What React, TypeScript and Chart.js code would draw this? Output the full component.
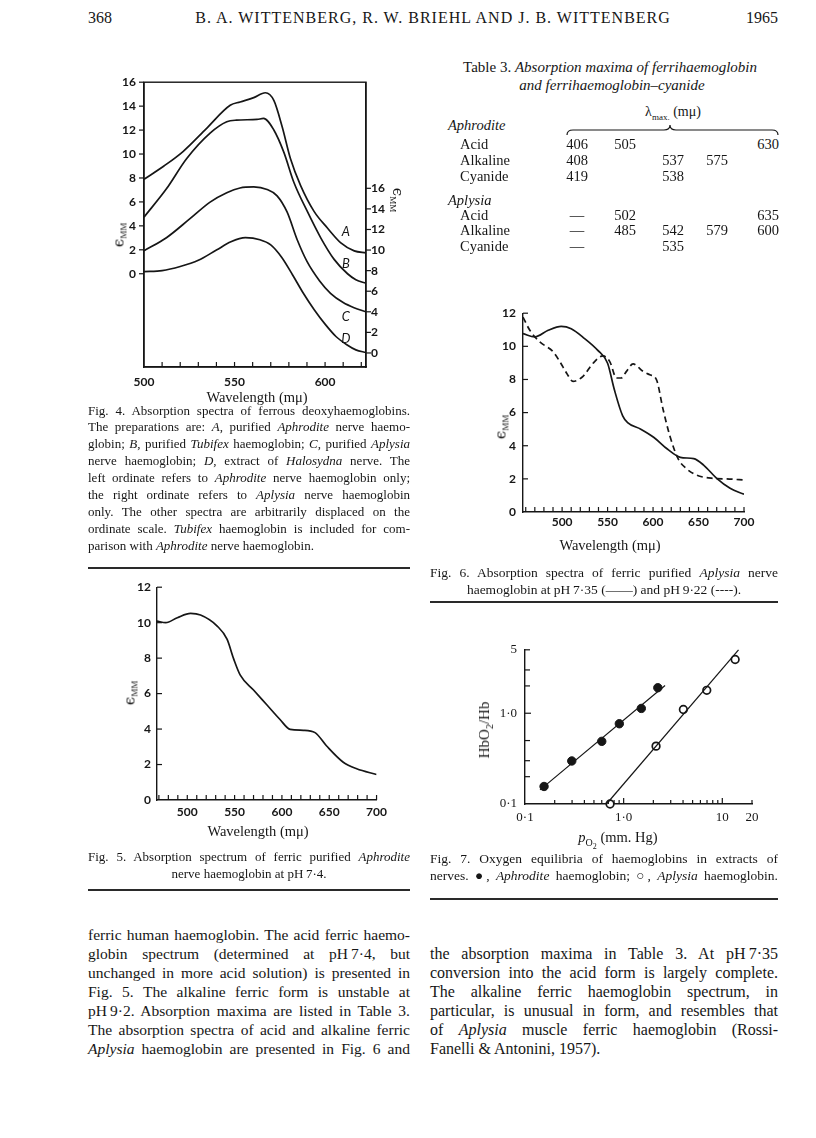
import React, { useEffect, useRef } from "react";
import { Chart, registerables } from "chart.js";
Chart.register(...registerables);

// ---------------- Fig. 4 data (wavelength in mμ, ε mM) ----------------
const fig4A_wl = [500, 511, 521.7, 534.6, 547.6, 553.1, 560.6, 567, 571.7, 576.3, 580.9, 586.5, 593.9, 601.3, 608.7, 616.1, 622.6];
const fig4A_eps = [7.89, 9.0, 10.23, 12.15, 14.07, 14.35, 14.71, 15.12, 14.48, 12.28, 9.6, 7.36, 5.21, 3.82, 2.58, 1.91, 1.74];
const fig4B_wl = [500, 512.4, 523.5, 536.5, 545.7, 551, 562.4, 566, 571.7, 577.2, 582.8, 590.2, 597.6, 605, 612.4, 617, 622.6];
const fig4B_eps = [4.73, 7.09, 9.6, 11.74, 12.69, 12.83, 12.89, 12.97, 12.01, 10.16, 7.62, 5.2, 3.0, 1.2, 0.0, -0.5, -0.8];
// C and D are read on the right ordinate
const fig4C_wl = [500, 512.4, 525.4, 536.5, 545.7, 553, 560.6, 568, 573.5, 579, 584.6, 590, 597, 603, 610, 616, 622.6];
const fig4C_eps = [9.93, 11.2, 13.05, 14.66, 15.57, 16.03, 16.13, 15.88, 15.27, 13.7, 11.0, 8.9, 7.0, 5.8, 4.9, 4.4, 4.0];
const fig4D_wl = [500, 510, 520, 530, 540, 548, 556, 564, 570, 576, 582, 588, 594, 600, 606, 612, 617, 622.6];
const fig4D_eps = [7.9, 8.0, 8.4, 9.0, 10.0, 10.8, 11.2, 11.0, 10.5, 9.3, 7.6, 5.8, 4.2, 2.8, 1.6, 0.8, 0.3, 0.05];
const fig4LeftTicks = [0, 2, 4, 6, 8, 10, 12, 14, 16];
const fig4RightTicks = [0, 2, 4, 6, 8, 10, 12, 14, 16];
const fig4XLabelTicks = [500, 550, 600];
const fig4XMinorTicks = [510, 520, 530, 540, 550, 560, 570, 580, 590, 600, 610, 620];
const fig4CurveNames = ["A", "B", "C", "D"];
const fig4LabelWl = [611.5, 611.5, 611.5, 611.5];
const fig4LabelEps = [3.53, 0.82, 3.5, 1.4];
const fig4LabelAxis = ["y", "y", "y2", "y2"];

// ---------------- Fig. 5 data ----------------
const fig5_wl = [468, 477.2, 489.5, 503.5, 514, 531.6, 542, 549, 556, 570, 584, 598, 608.7, 622.7, 635, 647, 664.8, 679, 700];
const fig5_eps = [10.09, 10.0, 10.28, 10.52, 10.43, 9.81, 9.07, 7.96, 7.04, 6.2, 5.37, 4.54, 3.98, 3.93, 3.8, 3.06, 2.13, 1.76, 1.44];
const fig5YTicks = [0, 2, 4, 6, 8, 10, 12];
const fig5XLabelTicks = [500, 550, 600, 650, 700];
const fig5XMinorTicks = [470, 480, 490, 500, 510, 520, 530, 540, 550, 560, 570, 580, 590, 600, 610, 620, 630, 640, 650, 660, 670, 680, 690, 700];

// ---------------- Fig. 6 data ----------------
const fig6Solid_wl = [457, 470, 484.7, 499, 510, 524.7, 539, 550, 557.4, 566.6, 572, 586.5, 601, 615.7, 630, 644.7, 655.6, 670, 684.7, 700];
const fig6Solid_eps = [10.77, 10.57, 10.97, 11.2, 11.06, 10.47, 9.77, 8.98, 7.39, 5.8, 5.4, 5.0, 4.5, 3.8, 3.3, 3.22, 2.83, 2.03, 1.43, 1.07];
const fig6Dash_wl = [457, 464.5, 475.5, 490, 497.5, 505, 512, 523, 534, 545, 552.4, 559.8, 565, 570.8, 578, 589, 596.4, 603.7, 611, 618.4, 627.5, 636.7, 647.7, 666, 684, 700];
const fig6Dash_eps = [11.76, 10.97, 10.27, 9.68, 9.08, 8.38, 7.89, 8.19, 8.98, 9.42, 9.08, 8.09, 8.09, 8.49, 8.94, 8.49, 8.28, 7.99, 6.2, 4.61, 3.22, 2.62, 2.23, 2.03, 1.99, 1.93];
const fig6YTicks = [0, 2, 4, 6, 8, 10, 12];
const fig6XLabelTicks = [500, 550, 600, 650, 700];
const fig6XMinorTicks = [460, 470, 480, 490, 500, 510, 520, 530, 540, 550, 560, 570, 580, 590, 600, 610, 620, 630, 640, 650, 660, 670, 680, 690, 700];

// ---------------- Fig. 7 data (log-log) ----------------
const fig7Aphrodite_p = [0.156, 0.298, 0.6, 0.904, 1.51, 2.22];
const fig7Aphrodite_ratio = [0.156, 0.298, 0.49, 0.766, 1.13, 1.91];
const fig7Aplysia_p = [0.728, 2.13, 4.03, 6.96, 13.5];
const fig7Aplysia_ratio = [0.1, 0.434, 1.1, 1.79, 3.91];
const fig7AphroditeLine_p = [0.142, 2.63];
const fig7AphroditeLine_ratio = [0.143, 2.02];
const fig7AplysiaLine_p = [0.67, 14.6];
const fig7AplysiaLine_ratio = [0.1, 5.0];
const fig7XTickValues = [0.1, 1, 10, 20];
const fig7XTickLabels = ["0·1", "1·0", "10", "20"];
const fig7YTickValues = [0.1, 1, 5];
const fig7YTickLabels = ["0·1", "1·0", "5"];
const fig7XMinor = [0.2, 0.3, 0.4, 0.5, 0.6, 0.7, 0.8, 0.9, 2, 3, 4, 5, 6, 7, 8, 9, 20];
const fig7XMajor = [1, 10];
const fig7YMinor = [0.2, 0.3, 0.5, 2, 3, 5];
const fig7YMajor = [1];

// ---------------- styles ----------------
const INK = "#161616";
const SERIF = '"Liberation Serif", "Times New Roman", serif';
const SANS = 'Lato, "Liberation Sans", sans-serif';
const TICK_FONT = { family: SANS, size: 12, weight: "bold" as const };
const SERIF_TICK_FONT = { family: SERIF, size: 13 };

const pts = (xs: number[], ys: number[]) => xs.map((x, i) => ({ x, y: ys[i] }));

const paperPlugin = {
  id: "paper",
  afterDraw(chart: any, _args: any, opts: any) {
    const ctx = chart.ctx;
    const a = chart.chartArea;
    ctx.save();
    ctx.strokeStyle = INK;
    ctx.fillStyle = INK;
    if (opts.box) {
      ctx.lineWidth = 1.4;
      ctx.strokeRect(a.left, a.top, a.right - a.left, a.bottom - a.top);
    }
    (opts.marks || []).forEach((m: any) => {
      const s = chart.scales[m.axis];
      ctx.lineWidth = m.width || 1.2;
      m.values.forEach((v: number) => {
        const p = s.getPixelForValue(v);
        ctx.beginPath();
        if (m.edge === "bottom") {
          ctx.moveTo(p, a.bottom);
          ctx.lineTo(p, a.bottom + (m.inward ? -m.len : m.len));
        } else if (m.edge === "left") {
          ctx.moveTo(a.left, p);
          ctx.lineTo(a.left + (m.inward ? m.len : -m.len), p);
        } else {
          ctx.moveTo(a.right, p);
          ctx.lineTo(a.right + (m.inward ? -m.len : m.len), p);
        }
        ctx.stroke();
      });
    });
    (opts.texts || []).forEach((t: any) => {
      const x = chart.scales.x.getPixelForValue(t.x);
      const y = chart.scales[t.axis].getPixelForValue(t.y);
      ctx.font = t.font;
      ctx.textAlign = "center";
      ctx.textBaseline = "middle";
      ctx.fillText(t.text, x, y);
    });
    ctx.restore();
  },
};

function axis(extra: any, ticksList: number[] | null, fit: (s: any) => void, tickOpts: any) {
  return {
    grid: { display: false, drawTicks: false },
    border: { display: true, color: INK, width: 1.4 },
    ticks: { color: INK, autoSkip: false, maxRotation: 0, ...tickOpts },
    afterBuildTicks: ticksList ? (s: any) => { s.ticks = ticksList.map((v) => ({ value: v })); } : undefined,
    afterFit: fit,
    ...extra,
  };
}

const baseOptions = (padding: any) => ({
  animation: false,
  responsive: false,
  maintainAspectRatio: false,
  events: [],
  layout: { padding },
});

const lineDs = (xs: number[], ys: number[], yAxisID = "y", dash: number[] = []) => ({
  data: pts(xs, ys),
  yAxisID,
  showLine: true,
  borderColor: INK,
  borderWidth: 1.7,
  borderDash: dash,
  pointRadius: 0,
  cubicInterpolationMode: "monotone",
  fill: false,
});

function fig4Config(): any {
  return {
    type: "scatter",
    data: {
      datasets: [
        lineDs(fig4A_wl, fig4A_eps, "y"),
        lineDs(fig4B_wl, fig4B_eps, "y"),
        lineDs(fig4C_wl, fig4C_eps, "y2"),
        lineDs(fig4D_wl, fig4D_eps, "y2"),
      ],
    },
    options: {
      ...baseOptions({ top: 10, right: 0, left: 0, bottom: 0 }),
      plugins: {
        legend: { display: false },
        tooltip: { enabled: false },
        paper: {
          box: true,
          marks: [
            { axis: "x", edge: "bottom", values: fig4XMinorTicks, len: 5, inward: true },
            { axis: "y", edge: "left", values: fig4LeftTicks, len: 5, inward: false },
            { axis: "y2", edge: "right", values: fig4RightTicks, len: 5, inward: false },
          ],
          texts: fig4CurveNames.map((n, i) => ({
            text: n, x: fig4LabelWl[i], y: fig4LabelEps[i], axis: fig4LabelAxis[i],
            font: `italic 13px ${SANS}`,
          })),
        },
      },
      scales: {
        x: axis({ type: "linear", position: "bottom", min: 500, max: 622.6 }, fig4XLabelTicks,
          (s: any) => { s.height = 30; }, { font: TICK_FONT, padding: 8 }),
        y: axis({ type: "linear", position: "left", min: -7.79, max: 16 }, fig4LeftTicks,
          (s: any) => { s.width = 60; }, { font: TICK_FONT, padding: 8 }),
        y2: axis({ type: "linear", position: "right", min: -1.364, max: 26.31 }, fig4RightTicks,
          (s: any) => { s.width = 50; }, { font: TICK_FONT, padding: 5 }),
      },
    },
    plugins: [paperPlugin],
  };
}

function spectrumConfig(datasets: any[], xmin: number, xLabels: number[], xMinor: number[], yTicks: number[], xPad: number, yPad: number): any {
  return {
    type: "scatter",
    data: { datasets },
    options: {
      ...baseOptions({ top: 10, right: 15, left: 0, bottom: 0 }),
      plugins: {
        legend: { display: false },
        tooltip: { enabled: false },
        paper: {
          marks: [
            { axis: "x", edge: "bottom", values: xMinor, len: 5, inward: true },
            { axis: "y", edge: "left", values: yTicks.filter((v) => v > 0), len: 5, inward: true },
          ],
        },
      },
      scales: {
        x: axis({ type: "linear", position: "bottom", min: xmin, max: 700 }, xLabels,
          (s: any) => { s.height = 30; }, { font: TICK_FONT, padding: xPad }),
        y: axis({ type: "linear", position: "left", min: 0, max: 12 }, yTicks,
          (s: any) => { s.width = 50; }, { font: TICK_FONT, padding: yPad }),
      },
    },
    plugins: [paperPlugin],
  };
}

function fig7Config(): any {
  const label = (vals: number[], labs: string[]) => (v: number) => {
    const i = vals.findIndex((t) => Math.abs(t - v) < 1e-9);
    return i >= 0 ? labs[i] : "";
  };
  return {
    type: "scatter",
    data: {
      datasets: [
        { data: pts(fig7AphroditeLine_p, fig7AphroditeLine_ratio), showLine: true, borderColor: INK, borderWidth: 1.2, pointRadius: 0, clip: false },
        { data: pts(fig7AplysiaLine_p, fig7AplysiaLine_ratio), showLine: true, borderColor: INK, borderWidth: 1.2, pointRadius: 0, clip: false },
        { data: pts(fig7Aphrodite_p, fig7Aphrodite_ratio), showLine: false, pointRadius: 4.2, backgroundColor: INK, borderColor: INK, borderWidth: 1, clip: false },
        { data: pts(fig7Aplysia_p, fig7Aplysia_ratio), showLine: false, pointRadius: 3.8, backgroundColor: "#ffffff", borderColor: INK, borderWidth: 1.7, clip: false },
      ],
    },
    options: {
      ...baseOptions({ top: 10, right: 15, left: 0, bottom: 0 }),
      plugins: {
        legend: { display: false },
        tooltip: { enabled: false },
        paper: {
          marks: [
            { axis: "x", edge: "bottom", values: fig7XMinor, len: 4, inward: true },
            { axis: "x", edge: "bottom", values: fig7XMajor, len: 6, inward: true },
            { axis: "y", edge: "left", values: fig7YMinor, len: 5, inward: true },
            { axis: "y", edge: "left", values: fig7YMajor, len: 6, inward: true },
          ],
        },
      },
      scales: {
        x: axis({ type: "logarithmic", position: "bottom", min: 0.1, max: 20 }, fig7XTickValues,
          (s: any) => { s.height = 30; }, { font: SERIF_TICK_FONT, padding: 6, callback: label(fig7XTickValues, fig7XTickLabels) }),
        y: axis({ type: "logarithmic", position: "left", min: 0.1, max: 5 }, fig7YTickValues,
          (s: any) => { s.width = 50; }, { font: SERIF_TICK_FONT, padding: 8, callback: label(fig7YTickValues, fig7YTickLabels) }),
      },
    },
    plugins: [paperPlugin],
  };
}

function ChartCanvas({ left, top, width, height, make }: { left: number; top: number; width: number; height: number; make: () => any }) {
  const ref = useRef<HTMLCanvasElement>(null);
  useEffect(() => {
    const chart = new Chart(ref.current as HTMLCanvasElement, make());
    return () => chart.destroy();
  }, []);
  return (
    <canvas ref={ref} width={width} height={height}
      style={{ position: "absolute", left, top, width, height }} />
  );
}

// ---------------- text helpers ----------------
function rich(s: string) {
  return s.split("*").map((p, i) => (i % 2 ? <i key={i}>{p}</i> : <React.Fragment key={i}>{p}</React.Fragment>));
}

function TextLine({ x, y, w, size, lh, text, mode, family }: any) {
  const style: any = {
    position: "absolute", left: x, top: y - lh / 2, width: w, height: lh, lineHeight: lh + "px",
    fontFamily: family || SERIF, fontSize: size, whiteSpace: "nowrap", color: INK,
    textAlign: mode === "justify" ? "justify" : mode,
  };
  if (mode === "justify") style.textAlignLast = "justify";
  return <div style={style}>{rich(text)}</div>;
}

function Para({ lines, x, y0, step, w, size, last }: any) {
  return (
    <>
      {lines.map((t: string, i: number) => (
        <TextLine key={i} x={x} y={y0 + i * step} w={w} size={size} lh={step}
          text={t} mode={i === lines.length - 1 ? last : "justify"} />
      ))}
    </>
  );
}

function Abs({ x, y, children, style }: any) {
  return <div style={{ position: "absolute", left: x, top: y, transform: "translate(-50%,-50%)", whiteSpace: "nowrap", color: INK, ...style }}>{children}</div>;
}

function Rotated({ x, y, deg, children, style }: any) {
  return <div style={{ position: "absolute", left: x, top: y, transform: `translate(-50%,-50%) rotate(${deg}deg)`, whiteSpace: "nowrap", color: INK, ...style }}>{children}</div>;
}

function Rule({ x, y, w }: any) {
  return <div style={{ position: "absolute", left: x, top: y, width: w, height: 1.5, background: "#2a2a2a" }} />;
}

const Eps = () => (
  <span style={{ fontFamily: '"DejaVu Serif", serif', fontSize: 15 }}>
    ϵ<sub style={{ fontSize: 9, fontFamily: SERIF, verticalAlign: "-3px" }}>MM</sub>
  </span>
);

const Wavelength = () => (
  <span style={{ fontFamily: SERIF, fontSize: 14.5 }}>Wavelength (mμ)</span>
);

// ---------------- page text ----------------
const LEFT_X = 88, LEFT_W = 322;
const RIGHT_X = 430, RIGHT_W = 348;

const fig4Caption = [
  "Fig. 4. Absorption spectra of ferrous deoxyhaemoglobins.",
  "The preparations are: *A*, purified *Aphrodite* nerve haemo-",
  "globin; *B*, purified *Tubifex* haemoglobin; *C*, purified *Aplysia*",
  "nerve haemoglobin; *D*, extract of *Halosydna* nerve. The",
  "left ordinate refers to *Aphrodite* nerve haemoglobin only;",
  "the right ordinate refers to *Aplysia* nerve haemoglobin",
  "only. The other spectra are arbitrarily displaced on the",
  "ordinate scale. *Tubifex* haemoglobin is included for com-",
  "parison with *Aphrodite* nerve haemoglobin.",
];
const fig5Caption = ["Fig. 5. Absorption spectrum of ferric purified *Aphrodite*", "nerve haemoglobin at pH\u20097·4."];
const fig6Caption = ["Fig. 6. Absorption spectra of ferric purified *Aplysia* nerve", "haemoglobin at pH\u20097·35 (——) and pH\u20099·22 (----)."];
const fig7Caption = ["Fig. 7. Oxygen equilibria of haemoglobins in extracts of", "nerves. ●, *Aphrodite* haemoglobin; ○, *Aplysia* haemoglobin."];
const leftBody = [
  "ferric human haemoglobin. The acid ferric haemo-",
  "globin spectrum (determined at pH\u20097·4, but",
  "unchanged in more acid solution) is presented in",
  "Fig. 5. The alkaline ferric form is unstable at",
  "pH\u20099·2. Absorption maxima are listed in Table 3.",
  "The absorption spectra of acid and alkaline ferric",
  "*Aplysia* haemoglobin are presented in Fig. 6 and",
];
const rightBody = [
  "the absorption maxima in Table 3. At pH\u20097·35",
  "conversion into the acid form is largely complete.",
  "The alkaline ferric haemoglobin spectrum, in",
  "particular, is unusual in form, and resembles that",
  "of *Aplysia* muscle ferric haemoglobin (Rossi-",
  "Fanelli & Antonini, 1957).",
];

// Table 3
const tableColX = [577, 625, 673, 717, 768];
const tableRows: { label: string; indent: boolean; y: number; cells: string[] }[] = [
  { label: "*Aphrodite*", indent: false, y: 125, cells: ["", "", "", "", ""] },
  { label: "Acid", indent: true, y: 144, cells: ["406", "505", "", "", "630"] },
  { label: "Alkaline", indent: true, y: 160, cells: ["408", "", "537", "575", ""] },
  { label: "Cyanide", indent: true, y: 176, cells: ["419", "", "538", "", ""] },
  { label: "*Aplysia*", indent: false, y: 200, cells: ["", "", "", "", ""] },
  { label: "Acid", indent: true, y: 215, cells: ["—", "502", "", "", "635"] },
  { label: "Alkaline", indent: true, y: 230, cells: ["—", "485", "542", "579", "600"] },
  { label: "Cyanide", indent: true, y: 246, cells: ["—", "", "535", "", ""] },
];

export default function App() {
  return (
    <div style={{ position: "absolute", left: 0, top: 0, width: 816, height: 1138, background: "#fff", overflow: "hidden", fontFamily: SERIF, color: INK }}>
      {/* header */}
      <div style={{ position: "absolute", left: 88, top: 9, fontSize: 16, fontFamily: SERIF }}>368</div>
      <div style={{ position: "absolute", left: 433, top: 9, transform: "translateX(-50%)", fontSize: 16, letterSpacing: 1, whiteSpace: "nowrap" }}>
        B. A. WITTENBERG, R. W. BRIEHL AND J. B. WITTENBERG
      </div>
      <div style={{ position: "absolute", left: 778, top: 9, transform: "translateX(-100%)", fontSize: 16 }}>1965</div>

      {/* Fig. 4 */}
      <ChartCanvas left={84} top={67} width={332} height={330} make={fig4Config} />
      <Rotated x={119} y={235} deg={-90}><Eps /></Rotated>
      <Rotated x={397} y={200} deg={90}><Eps /></Rotated>
      <Abs x={257} y={397}><Wavelength /></Abs>
      <Para lines={fig4Caption} x={LEFT_X} y0={411} step={16.9} w={LEFT_W} size={13} last="left" />
      <Rule x={LEFT_X} y={567} w={LEFT_W} />

      {/* Fig. 5 */}
      <ChartCanvas left={107} top={574} width={285} height={256}
        make={() => spectrumConfig([lineDs(fig5_wl, fig5_eps)], 468, fig5XLabelTicks, fig5XMinorTicks, fig5YTicks, 5, 6)} />
      <Rotated x={130} y={693} deg={-90}><Eps /></Rotated>
      <Abs x={258} y={831}><Wavelength /></Abs>
      <Para lines={fig5Caption} x={LEFT_X} y0={856} step={17} w={LEFT_W} size={13} last="center" />
      <Rule x={LEFT_X} y={889} w={LEFT_W} />

      {/* left body */}
      <Para lines={leftBody} x={LEFT_X} y0={934} step={19} w={LEFT_W} size={15.5} last="justify" />

      {/* Table 3 */}
      <Abs x={610} y={67}>
        <span style={{ fontSize: 15 }}>Table 3. <i>Absorption maxima of ferrihaemoglobin</i></span>
      </Abs>
      <Abs x={612} y={85}>
        <span style={{ fontSize: 15 }}><i>and ferrihaemoglobin–cyanide</i></span>
      </Abs>
      <Abs x={673} y={112}>
        <span style={{ fontSize: 14 }}>λ<sub style={{ fontSize: 9 }}>max.</sub> (mμ)</span>
      </Abs>
      <svg style={{ position: "absolute", left: 560, top: 124 }} width={225} height={16}>
        <path d="M7,11 Q7,6 13,6 L104,6 Q110,6 110,1 Q110,6 116,6 L212,6 Q218,6 218,11" fill="none" stroke={INK} strokeWidth={1.2} />
      </svg>
      {tableRows.map((r, i) => (
        <React.Fragment key={i}>
          <div style={{ position: "absolute", left: r.indent ? 460 : 448, top: r.y - 9, fontSize: 14.5, lineHeight: "18px", whiteSpace: "nowrap" }}>{rich(r.label)}</div>
          {r.cells.map((c, j) => c ? <Abs key={j} x={tableColX[j]} y={r.y}><span style={{ fontSize: 14.5 }}>{c}</span></Abs> : null)}
        </React.Fragment>
      ))}

      {/* Fig. 6 */}
      <ChartCanvas left={473} top={298.5} width={286} height={243}
        make={() => spectrumConfig([lineDs(fig6Solid_wl, fig6Solid_eps), lineDs(fig6Dash_wl, fig6Dash_eps, "y", [6, 4])], 457, fig6XLabelTicks, fig6XMinorTicks, fig6YTicks, 3, 7)} />
      <Rotated x={501} y={427} deg={-90}><Eps /></Rotated>
      <Abs x={610} y={545}><Wavelength /></Abs>
      <Para lines={fig6Caption} x={RIGHT_X} y0={572} step={17} w={RIGHT_W} size={13.5} last="center" />
      <Rule x={RIGHT_X} y={601} w={RIGHT_W} />

      {/* Fig. 7 */}
      <ChartCanvas left={475} top={634} width={292} height={200} make={fig7Config} />
      <Rotated x={485} y={730} deg={-90}>
        <span style={{ fontFamily: SERIF, fontSize: 15 }}>HbO<sub style={{ fontSize: 10 }}>2</sub>/Hb</span>
      </Rotated>
      <Abs x={618} y={839}>
        <span style={{ fontFamily: SERIF, fontSize: 14.5 }}><i>p</i><sub style={{ fontSize: 10 }}>O<sub style={{ fontSize: 8 }}>2</sub></sub> (mm. Hg)</span>
      </Abs>
      <Para lines={fig7Caption} x={RIGHT_X} y0={858} step={17} w={RIGHT_W} size={13.5} last="justify" />
      <Rule x={RIGHT_X} y={898} w={RIGHT_W} />

      {/* right body */}
      <Para lines={rightBody} x={RIGHT_X} y0={953} step={19} w={RIGHT_W} size={16} last="left" />
    </div>
  );
}
